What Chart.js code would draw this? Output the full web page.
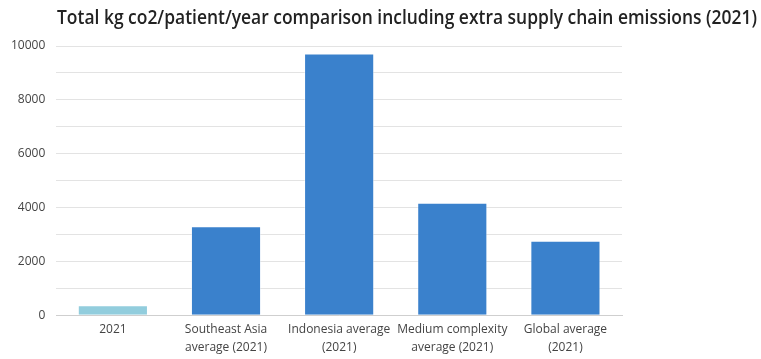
<!DOCTYPE html>
<html>
<head>
<meta charset="utf-8">
<script src="https://cdn.jsdelivr.net/npm/chart.js@4"></script>
<style>
  html, body { margin: 0; padding: 0; background: #fff; }
  #wrap { width: 761px; height: 359px; position: relative; }
</style>
</head>
<body>
<div id="wrap"><canvas id="emissionsChart"></canvas></div>
<script>
// categories (multi-line labels) and values
const categories = [
    '2021',
    ['Southeast Asia', 'average (2021)'],
    ['Indonesia average', '(2021)'],
    ['Medium complexity', 'average (2021)'],
    ['Global average', '(2021)']
];
const totalKgCo2 = [373, 3306, 9717, 4174, 2769];
const barColors = ['#92cddd', '#3a81cc', '#3a81cc', '#3a81cc', '#3a81cc'];
const yTicks = [0, 2000, 4000, 6000, 8000, 10000];
const chartTitle = 'Total kg co2/patient/year comparison including extra supply chain emissions (2021)';

// title sits off-centre (right of the plot) in a narrow face, so draw it by hand
const titlePlugin = {
    id: 'offsetTitle',
    afterDraw(chart) {
        const c = chart.ctx;
        c.save();
        c.font = '600 19.5px "Open Sans"';
        const w = c.measureText(chartTitle).width;
        const targetW = 700;
        c.translate(57, 24);
        c.scale(targetW / w, 1);
        c.fillStyle = '#222';
        c.textAlign = 'left';
        c.textBaseline = 'alphabetic';
        c.fillText(chartTitle, 0, 0);
        c.restore();
    }
};

const ctx = document.getElementById('emissionsChart').getContext('2d');

new Chart(ctx, {
    type: 'bar',
    data: {
        labels: categories,
        datasets: [{
            label: 'Total kg co2/patient/year',
            data: totalKgCo2,
            backgroundColor: barColors,
            borderColor: 'rgba(255,255,255,0.45)',
            borderWidth: 1,
            categoryPercentage: 0.62,
            barPercentage: 1
        }]
    },
    options: {
        responsive: true,
        maintainAspectRatio: false,
        animation: false,
        layout: { padding: { left: 0, right: 139, top: 46, bottom: -3 } },
        plugins: {
            legend: { display: false },
            tooltip: { enabled: false }
        },
        scales: {
            x: {
                grid: { display: false, drawTicks: false },
                border: { color: '#cfcfcf', width: 1 },
                ticks: {
                    color: '#444',
                    font: { family: 'Open Sans', size: 12, lineHeight: 1.45 },
                    padding: 6,
                    maxRotation: 0,
                    autoSkip: false
                }
            },
            y: {
                min: 0,
                max: 10000,
                border: { display: false },
                grid: { color: '#e3e3e3', drawTicks: false },
                ticks: {
                    stepSize: 1000,
                    color: '#444',
                    font: { family: 'Open Sans', size: 12 },
                    padding: 11,
                    callback: v => yTicks.includes(v) ? v : ''
                }
            }
        }
    },
    plugins: [titlePlugin]
});
</script>
</body>
</html>
